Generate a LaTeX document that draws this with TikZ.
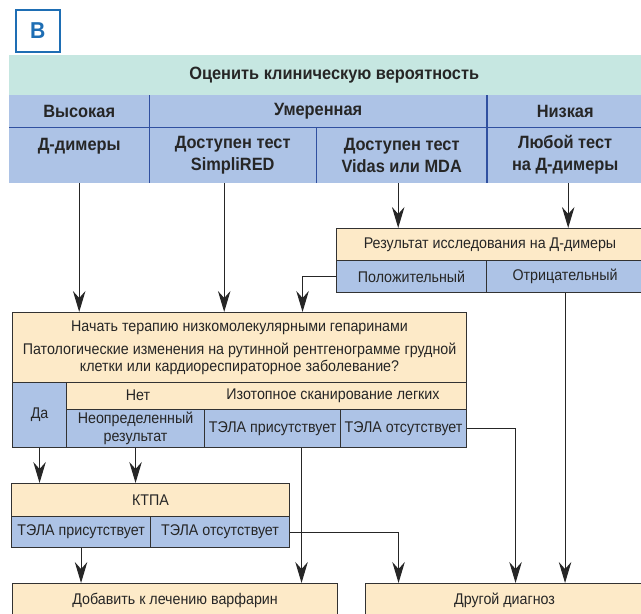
\documentclass[tikz,border=0pt]{standalone}
\usepackage{fontspec}
\setmainfont{Liberation Sans}[FakeStretch=0.92]
\usetikzlibrary{arrows.meta}
\definecolor{cream}{RGB}{253,234,200}
\definecolor{cellblue}{RGB}{173,195,230}
\definecolor{mint}{RGB}{198,231,225}
\definecolor{divblue}{RGB}{48,80,160}
\definecolor{lblue}{RGB}{30,110,180}
\definecolor{edge}{RGB}{50,50,50}
\newcommand\regf{\fontsize{15.5}{17.5}\selectfont}
\newcommand\boldf{\fontsize{17.8}{22}\selectfont\bfseries}
\begin{document}
\begin{tikzpicture}[x=1pt,y=-1pt,
  cell/.style={draw=edge, line width=1.1pt, inner sep=0pt, align=center, anchor=north west, font=\regf, text=black!85},
  hcell/.style={fill=cellblue, inner sep=0pt, align=center, anchor=north west, font=\boldf, text=black!85},
  txt/.style={inner sep=0pt, font=\regf, text=black!85},
  div/.style={draw=divblue, line width=1.3pt},
  arr/.style={draw=black!85, line width=1.1pt, -{Stealth[length=21pt,width=12.5pt,inset=7pt]}}]
\useasboundingbox (0,0) rectangle (641,614);
\fill[white] (0,0) rectangle (641,614);
\clip (0,0) rectangle (641,614);

\node[draw=lblue, line width=1.5pt, fill=white, minimum width=44, minimum height=42, anchor=north west, inner sep=0pt, text=lblue, font=\fontsize{23}{23}\selectfont\bfseries] (lbl) at (15,9) {В};

% header table
\node[hcell, fill=mint, minimum width=634, minimum height=40] (title) at (9,55) {\hspace*{16pt}Оценить клиническую вероятность};
\node[hcell, minimum width=140, minimum height=32] (vys) at (9,95) {Высокая};
\node[hcell, minimum width=338, minimum height=32] (umer) at (149,95) {Умеренная};
\node[hcell, minimum width=156, minimum height=32] (niz) at (487,95) {Низкая};
\node[hcell, minimum width=140, minimum height=56] (ddim) at (9,127) {Д-димеры\\\mbox{}};
\node[hcell, minimum width=167, minimum height=56] (simp) at (149,127) {Доступен тест\\SimpliRED};
\node[hcell, minimum width=171, minimum height=56] (vidas) at (316,127) {Доступен тест\\Vidas или MDA};
\node[hcell, minimum width=156, minimum height=56] (lyub) at (487,127) {Любой тест\\на Д-димеры};
\draw[div] (vys.south west) -- (niz.south east);
\draw[div] (vys.north east) -- (ddim.south east);
\draw[div] (niz.north west) -- (lyub.south west);
\draw[div] (simp.north east) -- (simp.south east);

% result of D-dimer test
\node[cell, fill=cream, minimum width=307, minimum height=32] (res) at (336,228) {Результат исследования на Д-димеры};
\node[cell, fill=cellblue, minimum width=150, minimum height=32] (pos) at (336,260) {Положительный};
\node[cell, fill=cellblue, minimum width=157, minimum height=32] (neg) at (486,260) {Отрицательный};

% big box
\node[cell, fill=cream, minimum width=454, minimum height=70] (big) at (12,312) {Начать терапию низкомолекулярными гепаринами\\[5.5pt]Патологические изменения на рутинной рентгенограмме грудной\\клетки или кардиореспираторное заболевание?};
\node[cell, fill=cellblue, minimum width=54, minimum height=65] (da) at (12,382) {Да};
\node[cell, fill=cream, minimum width=400, minimum height=27] (scan) at (66,382) {};
\node[txt] (net) at (138,395.5) {Нет};
\node[txt] (izot) at (333,395.5) {Изотопное сканирование легких};
\node[cell, fill=cellblue, minimum width=138, minimum height=38] (neop) at (66,409) {Неопределенный\\результат};
\node[cell, fill=cellblue, minimum width=136, minimum height=38] (tp1) at (204,409) {ТЭЛА присутствует};
\node[cell, fill=cellblue, minimum width=126, minimum height=38] (to1) at (340,409) {ТЭЛА отсутствует};

% KTPA
\node[cell, fill=cream, minimum width=278, minimum height=33] (ktpa) at (11,483) {КТПА};
\node[cell, fill=cellblue, minimum width=139, minimum height=31] (ktp) at (11,516) {ТЭЛА присутствует};
\node[cell, fill=cellblue, minimum width=139, minimum height=31] (kto) at (150,516) {ТЭЛА отсутствует};

% outcomes
\node[cell, fill=cream, minimum width=325, minimum height=34] (add) at (12,583) {Добавить к лечению варфарин};
\node[cell, fill=cream, minimum width=278, minimum height=34] (other) at (365,583) {Другой диагноз};

% connectors
\draw[arr] (ddim.south) -- (ddim.south |- big.north);
\draw[arr] ([xshift=-8.5pt]simp.south) -- ([xshift=-8.5pt]simp.south |- big.north);
\draw[arr] ([xshift=-3.5pt]vidas.south) -- ([xshift=-3.5pt]vidas.south |- res.north);
\draw[arr] ([xshift=3pt]lyub.south) -- ([xshift=3pt]lyub.south |- res.north);
\draw[arr] (pos.west) -| ([xshift=63pt]big.north);
\draw[arr] (neg.south) -- (neg.south |- other.north);
\draw[arr] (da.south) -- (da.south |- ktpa.north);
\draw[arr] (neop.south) -- (neop.south |- ktpa.north);
\draw[arr] ([xshift=29pt]tp1.south) -- ([xshift=29pt]tp1.south |- add.north);
\draw[arr] (to1.east) -| ([xshift=11pt]other.north);
\draw[arr] (ktp.south) -- (ktp.south |- add.north);
\draw[arr] (kto.east) -| ([xshift=-106pt]other.north);
\end{tikzpicture}
\end{document}
